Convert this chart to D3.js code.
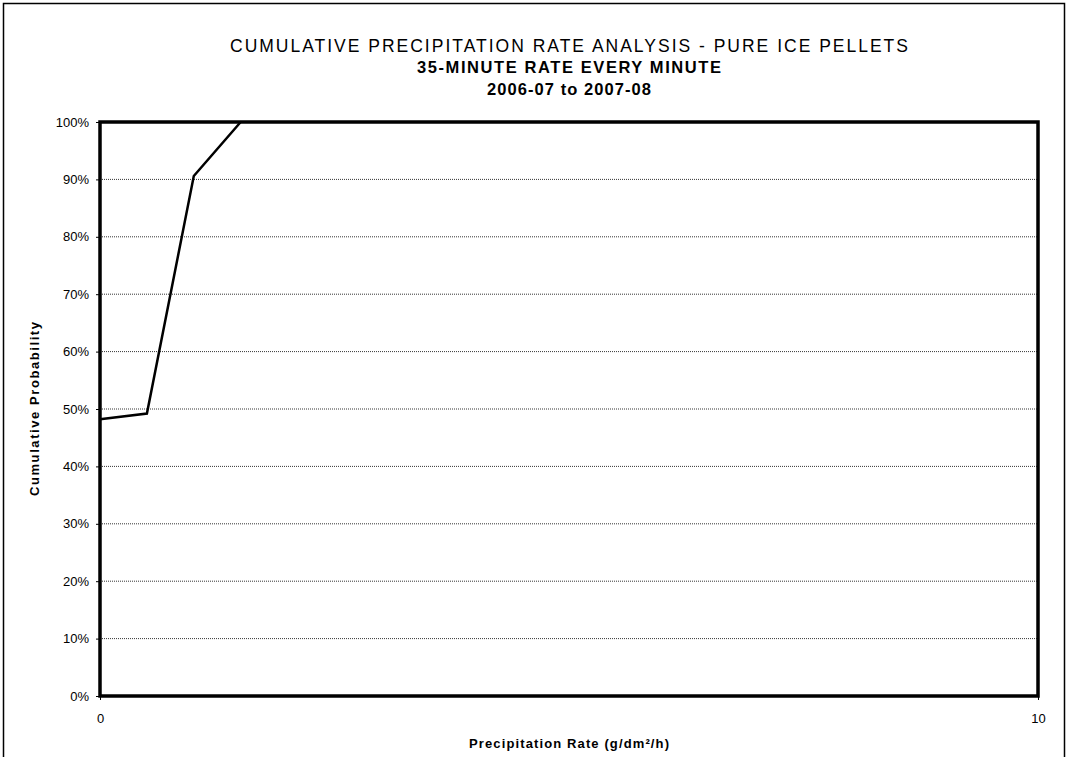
<!DOCTYPE html>
<html><head><meta charset="utf-8">
<script src="https://cdn.jsdelivr.net/npm/d3@7"></script>
<style>body{margin:0;background:#fff;}svg{display:block;font-family:"Liberation Sans",Arial,sans-serif;}</style>
</head><body><svg id="c" width="1068" height="757"></svg>
<script>
const rate = [0, 0.5, 1.0, 1.5];
const probability = [0.482, 0.492, 0.906, 1.0];
const yTicks = [0,0.1,0.2,0.3,0.4,0.5,0.6,0.7,0.8,0.9,1.0];
const xTicks = [0, 10];
const titleLines = ["CUMULATIVE PRECIPITATION RATE ANALYSIS - PURE ICE PELLETS","35-MINUTE RATE EVERY MINUTE","2006-07 to 2007-08"];

const svg = d3.select("#c");
const m = {l:100, t:122, r:1038, b:696};
const x = d3.scaleLinear().domain([0,10]).range([m.l, m.r]);
const y = d3.scaleLinear().domain([0,1]).range([m.b, m.t]);

// outer border
svg.append("path").attr("d","M3.5,760 V3.5 H1064.5 V760").attr("fill","none").attr("stroke","#000").attr("stroke-width",1.5);

// titles
const titleCfg = [
  {y:52, size:17.5, weight:"normal", len:678},
  {y:73, size:16.5, weight:"bold", len:304},
  {y:95, size:16.5, weight:"bold", len:164}
];
titleCfg.forEach((c,i)=>{
  svg.append("text").attr("x",569).attr("y",c.y).attr("text-anchor","middle")
    .attr("font-size",c.size).attr("font-weight",c.weight)
    .attr("textLength",c.len).attr("lengthAdjust","spacing").text(titleLines[i]);
});

// gridlines
svg.append("g").selectAll("line").data(yTicks.filter(d=>d>0&&d<1)).join("line")
  .attr("x1",m.l).attr("x2",m.r).attr("y1",d=>y(d)).attr("y2",d=>y(d))
  .attr("stroke","#000").attr("stroke-width",0.8).attr("stroke-dasharray","1,1");

// axes
const yAxis = d3.axisLeft(y).tickValues(yTicks).tickFormat(d3.format(".0%")).tickSize(4).tickPadding(7);
const gy = svg.append("g").attr("transform",`translate(${m.l},0)`).call(yAxis);
gy.select(".domain").remove();
gy.selectAll("text").attr("font-size",13).attr("font-family","Liberation Sans, Arial, sans-serif").attr("fill","#000");
gy.selectAll("line").attr("stroke","#000");

const xAxis = d3.axisBottom(x).tickValues(xTicks).tickFormat(d3.format("d")).tickSize(4).tickPadding(14);
const gx = svg.append("g").attr("transform",`translate(0,${m.b})`).call(xAxis);
gx.select(".domain").remove();
gx.selectAll("text").attr("font-size",13).attr("font-family","Liberation Sans, Arial, sans-serif").attr("fill","#000");
gx.selectAll("line").attr("stroke","#000");

// line
const line = d3.line().x((d,i)=>x(rate[i])).y(d=>y(d));
svg.append("path").datum(probability).attr("d",line).attr("fill","none").attr("stroke","#000").attr("stroke-width",2.5).attr("stroke-linejoin","miter");

// frame
svg.append("rect").attr("x",m.l).attr("y",m.t).attr("width",m.r-m.l).attr("height",m.b-m.t)
  .attr("fill","none").attr("stroke","#000").attr("stroke-width",3.5);

// axis titles
svg.append("text").attr("x",569).attr("y",748).attr("text-anchor","middle").attr("font-size",13).attr("font-weight","bold")
  .attr("textLength",200).attr("lengthAdjust","spacing").text("Precipitation Rate (g/dm²/h)");
svg.append("text").attr("transform","translate(39,409) rotate(-90)").attr("text-anchor","middle").attr("font-size",13).attr("font-weight","bold")
  .attr("textLength",174).attr("lengthAdjust","spacing").text("Cumulative Probability");
</script></body></html>
